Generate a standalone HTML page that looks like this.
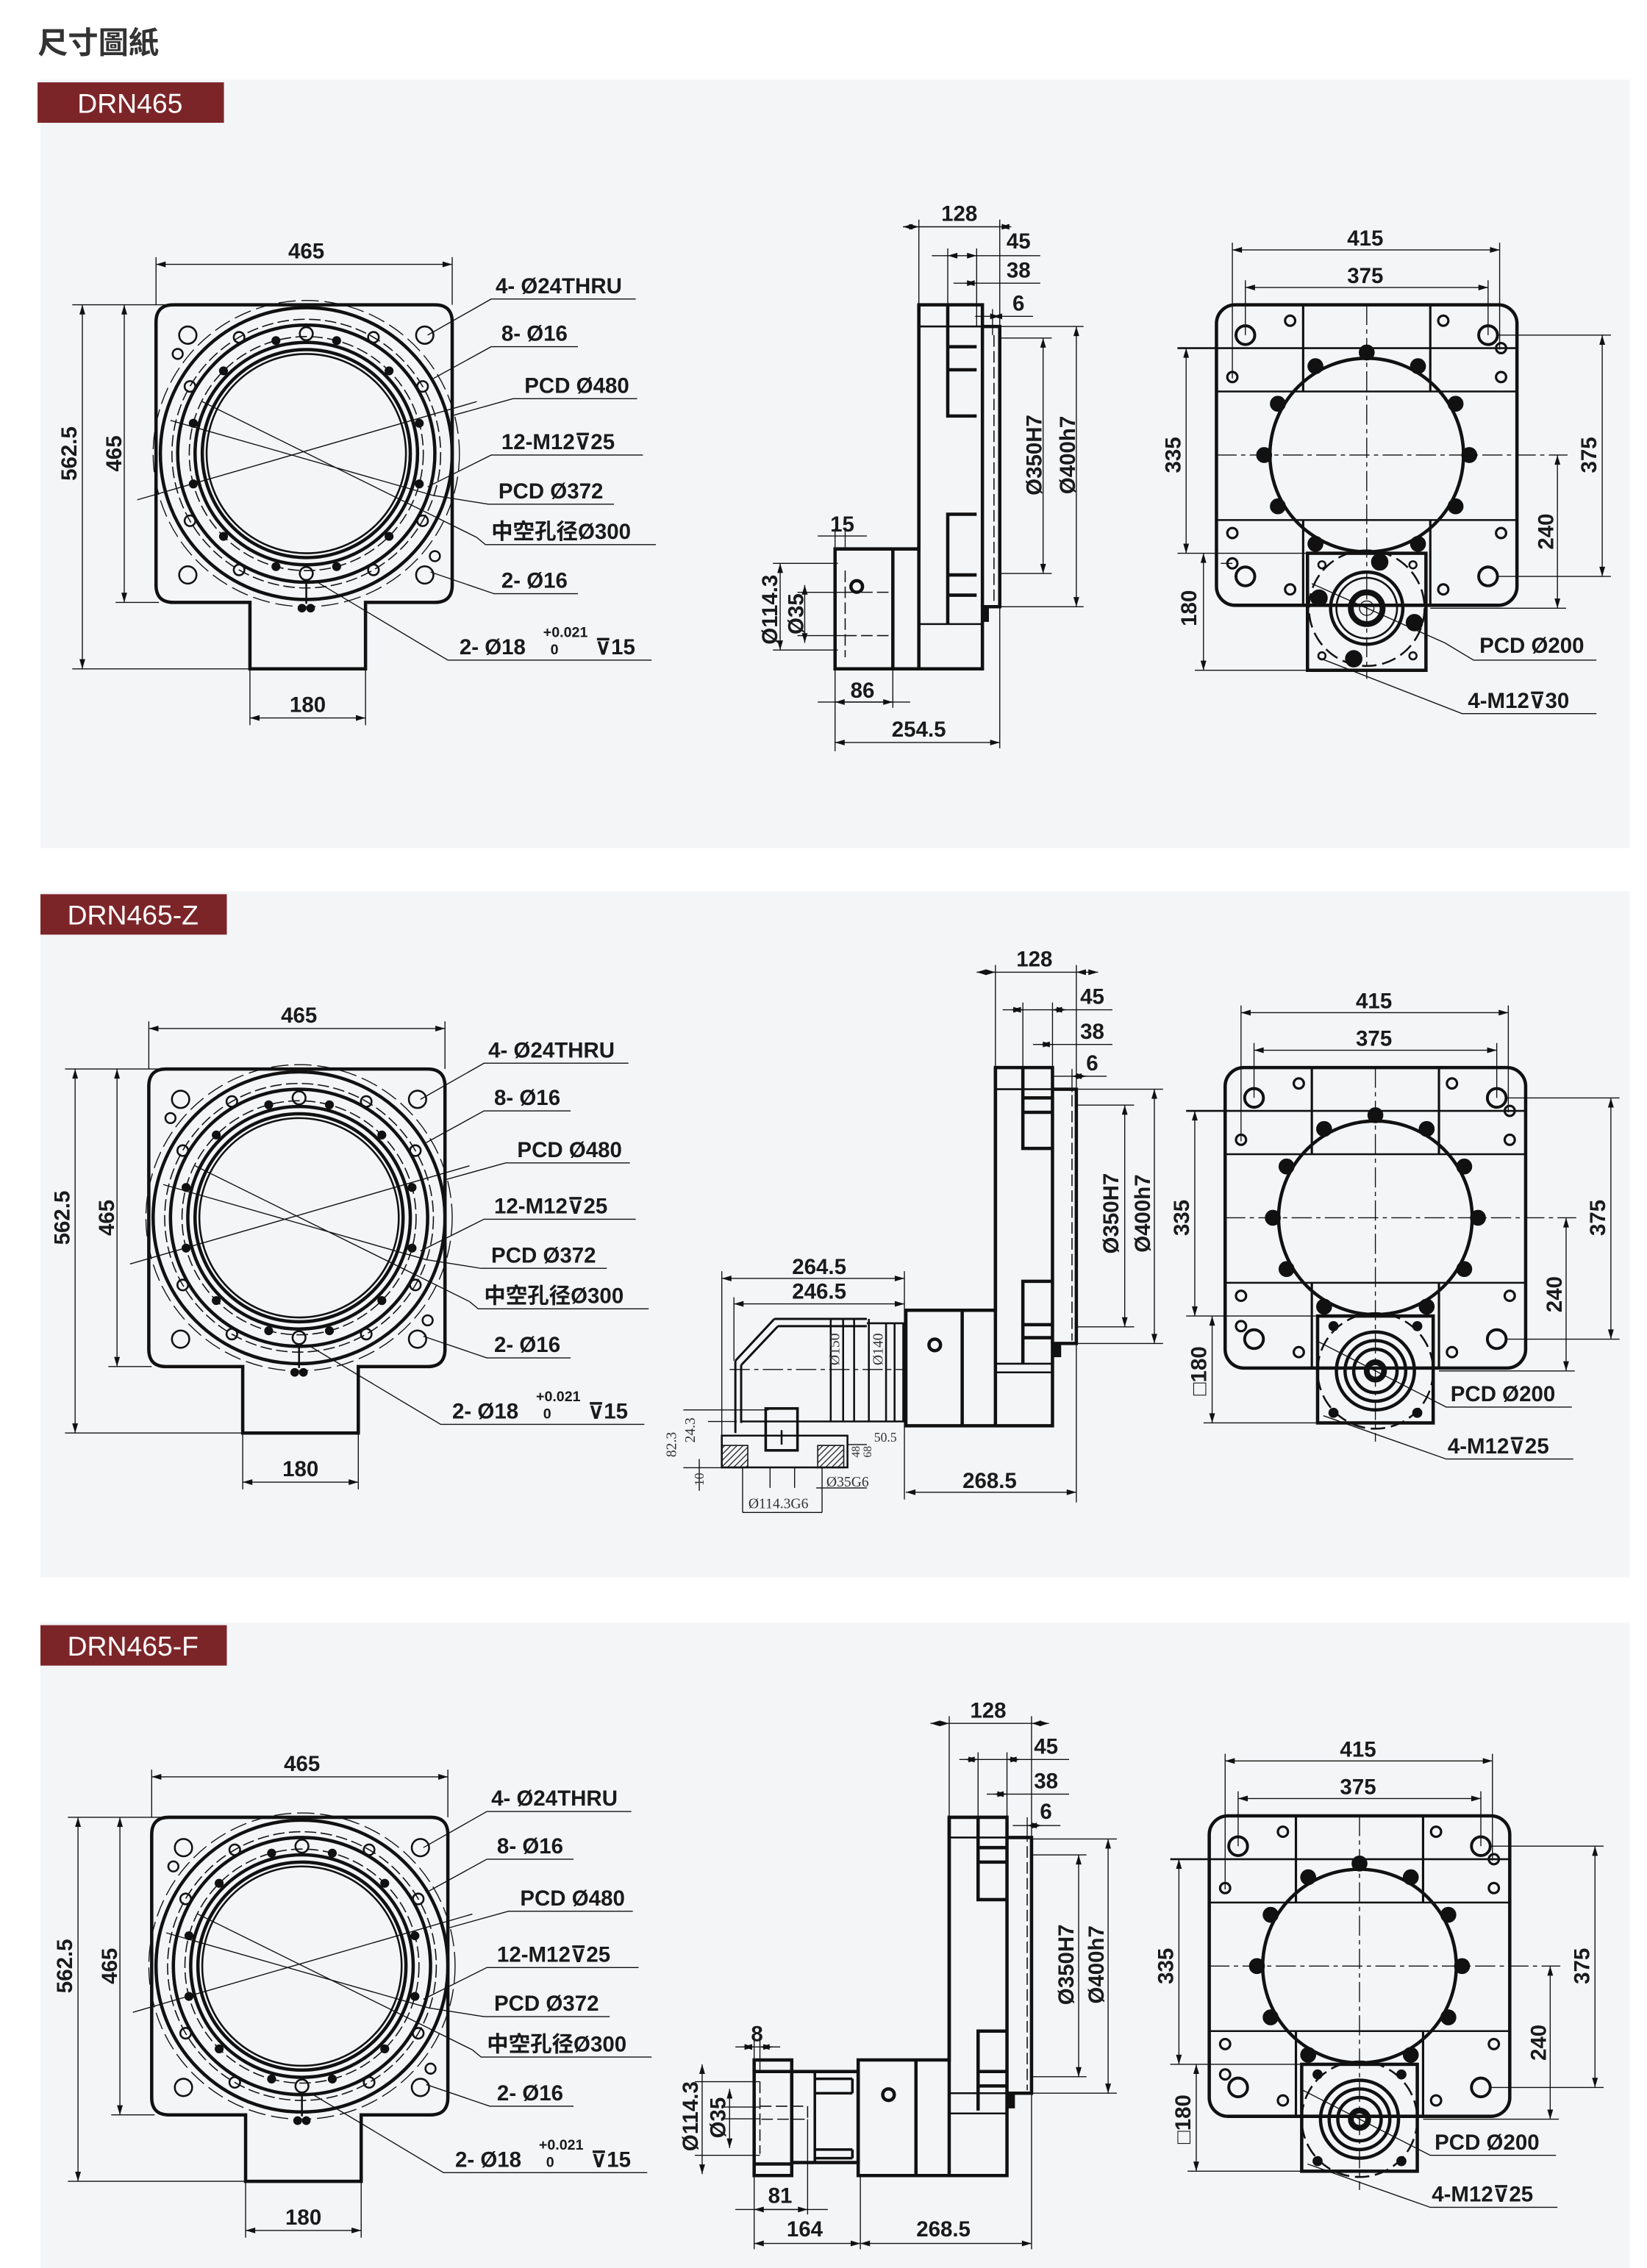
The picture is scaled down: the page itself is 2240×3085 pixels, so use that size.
<!DOCTYPE html>
<html><head><meta charset="utf-8"><style>
html,body{margin:0;padding:0;background:#fff;}
svg{display:block;}
text{font-family:"Liberation Sans","Noto Sans CJK TC",sans-serif;fill:#1a1a1a;}
.t{font-size:15px;font-weight:bold;}
.s{font-family:"Liberation Serif",serif;font-size:8px;fill:#333;}
.k{stroke:#111;stroke-width:2.3;fill:none;}
.m{stroke:#111;stroke-width:1.3;fill:none;}
.n{stroke:#111;stroke-width:0.7;fill:none;}
.d{stroke:#111;stroke-width:0.7;fill:none;marker-start:url(#a);marker-end:url(#a);}
.dh{stroke:#111;stroke-width:0.8;fill:none;stroke-dasharray:8 3;}
.c{stroke:#111;stroke-width:0.7;fill:none;stroke-dasharray:14 3 3 3;}
.f{fill:#111;stroke:#111;stroke-width:1;}
</style></head><body>
<svg width="2240" height="3085" viewBox="0 0 1140 1570" preserveAspectRatio="none" xmlns="http://www.w3.org/2000/svg">
<defs>
<marker id="a" viewBox="0 0 10 6" refX="10" refY="3" markerUnits="userSpaceOnUse" markerWidth="8" markerHeight="4" orient="auto-start-reverse"><path d="M0,0 L10,3 L0,6z" fill="#111"/></marker>
<pattern id="h" width="3" height="3" patternUnits="userSpaceOnUse" patternTransform="rotate(45)"><line x1="0" y1="0" x2="0" y2="3" stroke="#111" stroke-width="1.2"/></pattern>
</defs>
<rect width="1140" height="1570" fill="#fff"/>
<text x="26" y="37" style="font-size:21px;font-weight:bold;fill:#333">尺寸圖紙</text>
<rect x="28" y="55" width="1100" height="532" fill="#f4f5f7"/>
<rect x="28" y="617" width="1100" height="475" fill="#f4f5f7"/>
<rect x="28" y="1123" width="1100" height="447" fill="#f4f5f7"/>
<rect x="26" y="57" width="129" height="28" fill="#7c2529"/>
<text x="90" y="78" text-anchor="middle" style="font-size:19px;fill:#fff">DRN465</text>
<rect x="28" y="619" width="129" height="28" fill="#7c2529"/>
<text x="92" y="640" text-anchor="middle" style="font-size:19px;fill:#fff">DRN465-Z</text>
<rect x="28" y="1125" width="129" height="28" fill="#7c2529"/>
<text x="92" y="1146" text-anchor="middle" style="font-size:19px;fill:#fff">DRN465-F</text>

<!-- FRONT VIEWS -->
<g id="fv1">
<g class="fvshape">
<line class="d" x1="108" y1="183" x2="313" y2="183"/>
<line class="n" x1="108" y1="178" x2="108" y2="211"/><line class="n" x1="313" y1="178" x2="313" y2="211"/>
<line class="d" x1="57" y1="211" x2="57" y2="463"/>
<line class="n" x1="50" y1="211" x2="120" y2="211"/><line class="n" x1="50" y1="463" x2="173" y2="463"/>
<line class="d" x1="86" y1="211" x2="86" y2="417"/><line class="n" x1="80" y1="417" x2="110" y2="417"/>
<line class="d" x1="173" y1="497" x2="253" y2="497"/>
<line class="n" x1="173" y1="463" x2="173" y2="502"/><line class="n" x1="253" y1="463" x2="253" y2="502"/>
<path class="k" d="M120,211 H301 Q313,211 313,223 V405 Q313,417 301,417 H253 V463 H173 V417 H120 Q108,417 108,405 V223 Q108,211 120,211 Z"/>
<circle class="k" cx="212" cy="314" r="101"/>
<circle class="dh" cx="212" cy="314" r="93"/>
<circle class="n" cx="212" cy="314" r="106" stroke-dasharray="12 4"/>
<circle class="k" cx="212" cy="314" r="89"/>
<circle class="dh" cx="212" cy="314" r="81"/>
<circle class="k" cx="212" cy="314" r="77"/>
<circle class="k" cx="212" cy="314" r="72"/>
<circle class="m" cx="212" cy="314" r="69"/>
<g class="m">
<circle cx="130" cy="232" r="6"/><circle cx="294" cy="232" r="6"/><circle cx="130" cy="398" r="6"/><circle cx="294" cy="398" r="6"/>
<circle cx="123" cy="245" r="3.5"/><circle cx="301" cy="385" r="3.5"/>
<circle cx="258.5" cy="233.5" r="3.7"/><circle cx="292.5" cy="267.5" r="3.7"/><circle cx="292.5" cy="360.5" r="3.7"/><circle cx="258.5" cy="394.5" r="3.7"/>
<circle cx="165.5" cy="394.5" r="3.7"/><circle cx="131.5" cy="360.5" r="3.7"/><circle cx="131.5" cy="267.5" r="3.7"/><circle cx="165.5" cy="233.5" r="3.7"/>
<circle cx="212" cy="231" r="4.5"/><circle cx="212" cy="397" r="4.5"/>
</g>
<g class="f">
<circle cx="233" cy="235.8" r="2.6"/><circle cx="269.3" cy="256.7" r="2.6"/><circle cx="290.2" cy="293" r="2.6"/><circle cx="290.2" cy="335" r="2.6"/>
<circle cx="269.3" cy="371.3" r="2.6"/><circle cx="233" cy="392.2" r="2.6"/><circle cx="191" cy="392.2" r="2.6"/><circle cx="154.7" cy="371.3" r="2.6"/>
<circle cx="133.8" cy="335" r="2.6"/><circle cx="133.8" cy="293" r="2.6"/><circle cx="154.7" cy="256.7" r="2.6"/><circle cx="191" cy="235.8" r="2.6"/>
<circle cx="209" cy="421" r="2.5"/><circle cx="215" cy="421" r="2.5"/>
</g>
<line class="m" x1="212" y1="401" x2="212" y2="418"/>
<line class="n" x1="95" y1="346" x2="330" y2="278"/>
<line class="n" x1="118" y1="291" x2="300" y2="343"/>
<line class="n" x1="140" y1="278" x2="330" y2="372"/>
<path class="n" d="M296,232 L340,207 H440"/>
<path class="n" d="M300,262 L340,240 H400"/>
<path class="n" d="M312,288 L355,276 H441"/>
<path class="n" d="M296,337 L340,315 H445"/>
<path class="n" d="M300,343 L338,349 H425"/>
<path class="n" d="M330,372 L336,377 H454"/>
<path class="n" d="M298,396 L342,411 H400"/>
<path class="n" d="M218,402 L310,457 H451"/>
</g>
<text class="t" x="212" y="179" text-anchor="middle">465</text>
<text class="t" transform="translate(53,314) rotate(-90)" text-anchor="middle">562.5</text>
<text class="t" transform="translate(84,314) rotate(-90)" text-anchor="middle">465</text>
<text class="t" x="213" y="493" text-anchor="middle">180</text>
<text class="t" x="343" y="203">4- Ø24THRU</text>
<text class="t" x="347" y="236">8- Ø16</text>
<text class="t" x="363" y="272">PCD Ø480</text>
<text class="t" x="347" y="311">12-M12⊽25</text>
<text class="t" x="345" y="345">PCD Ø372</text>
<text class="t" x="340" y="373">中空孔径Ø300</text>
<text class="t" x="347" y="407">2- Ø16</text>
<text class="t" x="318" y="453">2- Ø18</text>
<text x="376" y="441" style="font-size:10px;font-weight:bold">+0.021</text>
<text x="381" y="453" style="font-size:10px;font-weight:bold">0</text>
<text class="t" x="412" y="453">⊽15</text>
</g>

<g transform="translate(-5,529)">
<g>
<line class="d" x1="108" y1="183" x2="313" y2="183"/>
<line class="n" x1="108" y1="178" x2="108" y2="211"/><line class="n" x1="313" y1="178" x2="313" y2="211"/>
<line class="d" x1="57" y1="211" x2="57" y2="463"/>
<line class="n" x1="50" y1="211" x2="120" y2="211"/><line class="n" x1="50" y1="463" x2="173" y2="463"/>
<line class="d" x1="86" y1="211" x2="86" y2="417"/><line class="n" x1="80" y1="417" x2="110" y2="417"/>
<line class="d" x1="173" y1="497" x2="253" y2="497"/>
<line class="n" x1="173" y1="463" x2="173" y2="502"/><line class="n" x1="253" y1="463" x2="253" y2="502"/>
<path class="k" d="M120,211 H301 Q313,211 313,223 V405 Q313,417 301,417 H253 V463 H173 V417 H120 Q108,417 108,405 V223 Q108,211 120,211 Z"/>
<circle class="k" cx="212" cy="314" r="101"/>
<circle class="dh" cx="212" cy="314" r="93"/>
<circle class="n" cx="212" cy="314" r="106" stroke-dasharray="12 4"/>
<circle class="k" cx="212" cy="314" r="89"/>
<circle class="dh" cx="212" cy="314" r="81"/>
<circle class="k" cx="212" cy="314" r="77"/>
<circle class="k" cx="212" cy="314" r="72"/>
<circle class="m" cx="212" cy="314" r="69"/>
<g class="m">
<circle cx="130" cy="232" r="6"/><circle cx="294" cy="232" r="6"/><circle cx="130" cy="398" r="6"/><circle cx="294" cy="398" r="6"/>
<circle cx="123" cy="245" r="3.5"/><circle cx="301" cy="385" r="3.5"/>
<circle cx="258.5" cy="233.5" r="3.7"/><circle cx="292.5" cy="267.5" r="3.7"/><circle cx="292.5" cy="360.5" r="3.7"/><circle cx="258.5" cy="394.5" r="3.7"/>
<circle cx="165.5" cy="394.5" r="3.7"/><circle cx="131.5" cy="360.5" r="3.7"/><circle cx="131.5" cy="267.5" r="3.7"/><circle cx="165.5" cy="233.5" r="3.7"/>
<circle cx="212" cy="231" r="4.5"/><circle cx="212" cy="397" r="4.5"/>
</g>
<g class="f">
<circle cx="233" cy="235.8" r="2.6"/><circle cx="269.3" cy="256.7" r="2.6"/><circle cx="290.2" cy="293" r="2.6"/><circle cx="290.2" cy="335" r="2.6"/>
<circle cx="269.3" cy="371.3" r="2.6"/><circle cx="233" cy="392.2" r="2.6"/><circle cx="191" cy="392.2" r="2.6"/><circle cx="154.7" cy="371.3" r="2.6"/>
<circle cx="133.8" cy="335" r="2.6"/><circle cx="133.8" cy="293" r="2.6"/><circle cx="154.7" cy="256.7" r="2.6"/><circle cx="191" cy="235.8" r="2.6"/>
<circle cx="209" cy="421" r="2.5"/><circle cx="215" cy="421" r="2.5"/>
</g>
<line class="m" x1="212" y1="401" x2="212" y2="418"/>
<line class="n" x1="95" y1="346" x2="330" y2="278"/>
<line class="n" x1="118" y1="291" x2="300" y2="343"/>
<line class="n" x1="140" y1="278" x2="330" y2="372"/>
<path class="n" d="M296,232 L340,207 H440"/>
<path class="n" d="M300,262 L340,240 H400"/>
<path class="n" d="M312,288 L355,276 H441"/>
<path class="n" d="M296,337 L340,315 H445"/>
<path class="n" d="M300,343 L338,349 H425"/>
<path class="n" d="M330,372 L336,377 H454"/>
<path class="n" d="M298,396 L342,411 H400"/>
<path class="n" d="M218,402 L310,457 H451"/>
</g>
<text class="t" x="212" y="179" text-anchor="middle">465</text>
<text class="t" transform="translate(53,314) rotate(-90)" text-anchor="middle">562.5</text>
<text class="t" transform="translate(84,314) rotate(-90)" text-anchor="middle">465</text>
<text class="t" x="213" y="493" text-anchor="middle">180</text>
<text class="t" x="343" y="203">4- Ø24THRU</text>
<text class="t" x="347" y="236">8- Ø16</text>
<text class="t" x="363" y="272">PCD Ø480</text>
<text class="t" x="347" y="311">12-M12⊽25</text>
<text class="t" x="345" y="345">PCD Ø372</text>
<text class="t" x="340" y="373">中空孔径Ø300</text>
<text class="t" x="347" y="407">2- Ø16</text>
<text class="t" x="318" y="453">2- Ø18</text>
<text x="376" y="441" style="font-size:10px;font-weight:bold">+0.021</text>
<text x="381" y="453" style="font-size:10px;font-weight:bold">0</text>
<text class="t" x="412" y="453">⊽15</text>
</g>

<g transform="translate(-3,1047)">
<g>
<line class="d" x1="108" y1="183" x2="313" y2="183"/>
<line class="n" x1="108" y1="178" x2="108" y2="211"/><line class="n" x1="313" y1="178" x2="313" y2="211"/>
<line class="d" x1="57" y1="211" x2="57" y2="463"/>
<line class="n" x1="50" y1="211" x2="120" y2="211"/><line class="n" x1="50" y1="463" x2="173" y2="463"/>
<line class="d" x1="86" y1="211" x2="86" y2="417"/><line class="n" x1="80" y1="417" x2="110" y2="417"/>
<line class="d" x1="173" y1="497" x2="253" y2="497"/>
<line class="n" x1="173" y1="463" x2="173" y2="502"/><line class="n" x1="253" y1="463" x2="253" y2="502"/>
<path class="k" d="M120,211 H301 Q313,211 313,223 V405 Q313,417 301,417 H253 V463 H173 V417 H120 Q108,417 108,405 V223 Q108,211 120,211 Z"/>
<circle class="k" cx="212" cy="314" r="101"/>
<circle class="dh" cx="212" cy="314" r="93"/>
<circle class="n" cx="212" cy="314" r="106" stroke-dasharray="12 4"/>
<circle class="k" cx="212" cy="314" r="89"/>
<circle class="dh" cx="212" cy="314" r="81"/>
<circle class="k" cx="212" cy="314" r="77"/>
<circle class="k" cx="212" cy="314" r="72"/>
<circle class="m" cx="212" cy="314" r="69"/>
<g class="m">
<circle cx="130" cy="232" r="6"/><circle cx="294" cy="232" r="6"/><circle cx="130" cy="398" r="6"/><circle cx="294" cy="398" r="6"/>
<circle cx="123" cy="245" r="3.5"/><circle cx="301" cy="385" r="3.5"/>
<circle cx="258.5" cy="233.5" r="3.7"/><circle cx="292.5" cy="267.5" r="3.7"/><circle cx="292.5" cy="360.5" r="3.7"/><circle cx="258.5" cy="394.5" r="3.7"/>
<circle cx="165.5" cy="394.5" r="3.7"/><circle cx="131.5" cy="360.5" r="3.7"/><circle cx="131.5" cy="267.5" r="3.7"/><circle cx="165.5" cy="233.5" r="3.7"/>
<circle cx="212" cy="231" r="4.5"/><circle cx="212" cy="397" r="4.5"/>
</g>
<g class="f">
<circle cx="233" cy="235.8" r="2.6"/><circle cx="269.3" cy="256.7" r="2.6"/><circle cx="290.2" cy="293" r="2.6"/><circle cx="290.2" cy="335" r="2.6"/>
<circle cx="269.3" cy="371.3" r="2.6"/><circle cx="233" cy="392.2" r="2.6"/><circle cx="191" cy="392.2" r="2.6"/><circle cx="154.7" cy="371.3" r="2.6"/>
<circle cx="133.8" cy="335" r="2.6"/><circle cx="133.8" cy="293" r="2.6"/><circle cx="154.7" cy="256.7" r="2.6"/><circle cx="191" cy="235.8" r="2.6"/>
<circle cx="209" cy="421" r="2.5"/><circle cx="215" cy="421" r="2.5"/>
</g>
<line class="m" x1="212" y1="401" x2="212" y2="418"/>
<line class="n" x1="95" y1="346" x2="330" y2="278"/>
<line class="n" x1="118" y1="291" x2="300" y2="343"/>
<line class="n" x1="140" y1="278" x2="330" y2="372"/>
<path class="n" d="M296,232 L340,207 H440"/>
<path class="n" d="M300,262 L340,240 H400"/>
<path class="n" d="M312,288 L355,276 H441"/>
<path class="n" d="M296,337 L340,315 H445"/>
<path class="n" d="M300,343 L338,349 H425"/>
<path class="n" d="M330,372 L336,377 H454"/>
<path class="n" d="M298,396 L342,411 H400"/>
<path class="n" d="M218,402 L310,457 H451"/>
</g>
<text class="t" x="212" y="179" text-anchor="middle">465</text>
<text class="t" transform="translate(53,314) rotate(-90)" text-anchor="middle">562.5</text>
<text class="t" transform="translate(84,314) rotate(-90)" text-anchor="middle">465</text>
<text class="t" x="213" y="493" text-anchor="middle">180</text>
<text class="t" x="343" y="203">4- Ø24THRU</text>
<text class="t" x="347" y="236">8- Ø16</text>
<text class="t" x="363" y="272">PCD Ø480</text>
<text class="t" x="347" y="311">12-M12⊽25</text>
<text class="t" x="345" y="345">PCD Ø372</text>
<text class="t" x="340" y="373">中空孔径Ø300</text>
<text class="t" x="347" y="407">2- Ø16</text>
<text class="t" x="318" y="453">2- Ø18</text>
<text x="376" y="441" style="font-size:10px;font-weight:bold">+0.021</text>
<text x="381" y="453" style="font-size:10px;font-weight:bold">0</text>
<text class="t" x="412" y="453">⊽15</text>
</g>

<!-- RIGHT VIEWS (plate + dims) -->
<g>
<line class="d" x1="853" y1="173" x2="1038" y2="173"/>
<line class="n" x1="853" y1="168" x2="853" y2="262"/><line class="n" x1="1038" y1="168" x2="1038" y2="242"/>
<line class="d" x1="862" y1="199" x2="1030" y2="199"/>
<line class="n" x1="862" y1="194" x2="862" y2="232"/><line class="n" x1="1030" y1="194" x2="1030" y2="232"/>
<rect class="k" x="842" y="211" width="208" height="208" rx="13"/>
<line class="k" x1="902" y1="211" x2="902" y2="271" style="stroke-width:1.6"/><line class="k" x1="990" y1="211" x2="990" y2="271" style="stroke-width:1.6"/>
<line class="k" x1="902" y1="360" x2="902" y2="419" style="stroke-width:1.6"/><line class="k" x1="990" y1="360" x2="990" y2="419" style="stroke-width:1.6"/>
<line class="m" x1="815" y1="241" x2="1050" y2="241"/>
<line class="m" x1="842" y1="271" x2="1050" y2="271"/>
<line class="m" x1="842" y1="360" x2="1050" y2="360"/>
<line class="c" x1="842" y1="315" x2="1085" y2="315"/>
<line class="c" x1="946" y1="211" x2="946" y2="470"/>
<circle class="k" cx="946" cy="315" r="67"/>
<g class="f">
<circle cx="946" cy="244" r="5"/><circle cx="981.5" cy="253.5" r="5"/><circle cx="1007.5" cy="279.5" r="5"/><circle cx="1017" cy="315" r="5"/>
<circle cx="1007.5" cy="350.5" r="5"/><circle cx="981.5" cy="376.5" r="5"/><circle cx="910.5" cy="253.5" r="5"/><circle cx="884.5" cy="279.5" r="5"/>
<circle cx="875" cy="315" r="5"/><circle cx="884.5" cy="350.5" r="5"/><circle cx="910.5" cy="376.5" r="5"/>
</g>
<g class="m" style="stroke-width:2">
<circle cx="862" cy="232" r="6.5"/><circle cx="1030" cy="232" r="6.5"/><circle cx="862" cy="399" r="6.5"/><circle cx="1030" cy="399" r="6.5"/>
</g>
<g class="m" style="stroke-width:1.6">
<circle cx="893" cy="222" r="3.5"/><circle cx="999" cy="222" r="3.5"/><circle cx="853" cy="261" r="3.5"/><circle cx="1039" cy="261" r="3.5"/>
<circle cx="853" cy="369" r="3.5"/><circle cx="1039" cy="369" r="3.5"/><circle cx="853" cy="390" r="3.5"/><circle cx="893" cy="408" r="3.5"/>
<circle cx="999" cy="408" r="3.5"/><circle cx="1039" cy="241" r="3.5"/>
</g>
<line class="d" x1="821" y1="241" x2="821" y2="383"/><line class="n" x1="815" y1="383" x2="905" y2="383"/>
<line class="d" x1="1109" y1="232" x2="1109" y2="399"/><line class="n" x1="1036" y1="232" x2="1115" y2="232"/><line class="n" x1="1036" y1="399" x2="1115" y2="399"/>
<line class="d" x1="1078" y1="315" x2="1078" y2="421"/><line class="n" x1="990" y1="421" x2="1084" y2="421"/>
<line class="d" x1="833" y1="383" x2="833" y2="464"/><line class="n" x1="827" y1="464" x2="905" y2="464"/>
<line class="n" x1="845" y1="390" x2="853" y2="390"/>
<text class="t" x="945" y="170" text-anchor="middle">415</text>
<text class="t" x="945" y="196" text-anchor="middle">375</text>
<text class="t" transform="translate(817,315) rotate(-90)" text-anchor="middle">335</text>
<text class="t" transform="translate(1105,315) rotate(-90)" text-anchor="middle">375</text>
<text class="t" transform="translate(1075,368) rotate(-90)" text-anchor="middle">240</text>
</g>
<!-- panel1 gearbox -->
<g>
<rect class="k" x="905" y="383" width="82" height="81"/>
<circle class="m" cx="946" cy="421" r="40" stroke-dasharray="10 4"/>
<circle class="k" cx="946" cy="421" r="25"/>
<circle class="m" cx="946" cy="421" r="21"/>
<circle class="k" cx="946" cy="421" r="11" style="stroke-width:4"/>
<circle class="n" cx="946" cy="421" r="5"/>
<g class="f"><circle cx="955" cy="389" r="5.5"/><circle cx="913" cy="414" r="5.5"/><circle cx="979" cy="431" r="5.5"/><circle cx="937" cy="456" r="5.5"/></g>
<g class="m"><circle cx="915" cy="391" r="2.5"/><circle cx="978" cy="391" r="2.5"/><circle cx="915" cy="454" r="2.5"/><circle cx="978" cy="454" r="2.5"/></g>
<path class="n" d="M908,404 L1000,445 L1020,457 H1105"/>
<path class="n" d="M912,455 L1012,494 H1105"/>
<text class="t" transform="translate(828,421) rotate(-90)" text-anchor="middle">180</text>
<text class="t" x="1024" y="452">PCD Ø200</text>
<text class="t" x="1016" y="490">4-M12⊽30</text>
</g>

<g transform="translate(6,528)">
<line class="d" x1="853" y1="173" x2="1038" y2="173"/>
<line class="n" x1="853" y1="168" x2="853" y2="262"/><line class="n" x1="1038" y1="168" x2="1038" y2="242"/>
<line class="d" x1="862" y1="199" x2="1030" y2="199"/>
<line class="n" x1="862" y1="194" x2="862" y2="232"/><line class="n" x1="1030" y1="194" x2="1030" y2="232"/>
<rect class="k" x="842" y="211" width="208" height="208" rx="13"/>
<line class="k" x1="902" y1="211" x2="902" y2="271" style="stroke-width:1.6"/><line class="k" x1="990" y1="211" x2="990" y2="271" style="stroke-width:1.6"/>
<line class="k" x1="902" y1="360" x2="902" y2="419" style="stroke-width:1.6"/><line class="k" x1="990" y1="360" x2="990" y2="419" style="stroke-width:1.6"/>
<line class="m" x1="815" y1="241" x2="1050" y2="241"/>
<line class="m" x1="842" y1="271" x2="1050" y2="271"/>
<line class="m" x1="842" y1="360" x2="1050" y2="360"/>
<line class="c" x1="842" y1="315" x2="1085" y2="315"/>
<line class="c" x1="946" y1="211" x2="946" y2="470"/>
<circle class="k" cx="946" cy="315" r="67"/>
<g class="f">
<circle cx="946" cy="244" r="5"/><circle cx="981.5" cy="253.5" r="5"/><circle cx="1007.5" cy="279.5" r="5"/><circle cx="1017" cy="315" r="5"/>
<circle cx="1007.5" cy="350.5" r="5"/><circle cx="981.5" cy="376.5" r="5"/><circle cx="910.5" cy="253.5" r="5"/><circle cx="884.5" cy="279.5" r="5"/>
<circle cx="875" cy="315" r="5"/><circle cx="884.5" cy="350.5" r="5"/><circle cx="910.5" cy="376.5" r="5"/>
</g>
<g class="m" style="stroke-width:2">
<circle cx="862" cy="232" r="6.5"/><circle cx="1030" cy="232" r="6.5"/><circle cx="862" cy="399" r="6.5"/><circle cx="1030" cy="399" r="6.5"/>
</g>
<g class="m" style="stroke-width:1.6">
<circle cx="893" cy="222" r="3.5"/><circle cx="999" cy="222" r="3.5"/><circle cx="853" cy="261" r="3.5"/><circle cx="1039" cy="261" r="3.5"/>
<circle cx="853" cy="369" r="3.5"/><circle cx="1039" cy="369" r="3.5"/><circle cx="853" cy="390" r="3.5"/><circle cx="893" cy="408" r="3.5"/>
<circle cx="999" cy="408" r="3.5"/><circle cx="1039" cy="241" r="3.5"/>
</g>
<line class="d" x1="821" y1="241" x2="821" y2="383"/><line class="n" x1="815" y1="383" x2="905" y2="383"/>
<line class="d" x1="1109" y1="232" x2="1109" y2="399"/><line class="n" x1="1036" y1="232" x2="1115" y2="232"/><line class="n" x1="1036" y1="399" x2="1115" y2="399"/>
<line class="d" x1="1078" y1="315" x2="1078" y2="421"/><line class="n" x1="990" y1="421" x2="1084" y2="421"/>
<line class="d" x1="833" y1="383" x2="833" y2="457"/><line class="n" x1="827" y1="457" x2="905" y2="457"/>
<text class="t" x="945" y="170" text-anchor="middle">415</text>
<text class="t" x="945" y="196" text-anchor="middle">375</text>
<text class="t" transform="translate(817,315) rotate(-90)" text-anchor="middle">335</text>
<text class="t" transform="translate(1105,315) rotate(-90)" text-anchor="middle">375</text>
<text class="t" transform="translate(1075,368) rotate(-90)" text-anchor="middle">240</text>
<rect class="k" x="906" y="383" width="80" height="74"/>
<circle class="m" cx="946" cy="421" r="40" stroke-dasharray="10 4"/>
<circle class="k" cx="946" cy="421" r="27"/>
<circle class="k" cx="946" cy="421" r="21"/>
<circle class="k" cx="946" cy="421" r="15"/>
<circle class="k" cx="946" cy="421" r="6" style="stroke-width:4"/>
<g class="f"><circle cx="917" cy="390" r="3"/><circle cx="975" cy="390" r="3"/><circle cx="917" cy="450" r="3"/><circle cx="975" cy="450" r="3"/></g>
<path class="n" d="M905,400 L995,446 H1082"/>
<path class="n" d="M910,452 L995,482 H1083"/>
<text class="t" transform="translate(829,421) rotate(-90)" text-anchor="middle">□180</text>
<text class="t" x="998" y="442">PCD Ø200</text>
<text class="t" x="996" y="478">4-M12⊽25</text>
</g>

<g transform="translate(-5,1046)">
<line class="d" x1="853" y1="173" x2="1038" y2="173"/>
<line class="n" x1="853" y1="168" x2="853" y2="262"/><line class="n" x1="1038" y1="168" x2="1038" y2="242"/>
<line class="d" x1="862" y1="199" x2="1030" y2="199"/>
<line class="n" x1="862" y1="194" x2="862" y2="232"/><line class="n" x1="1030" y1="194" x2="1030" y2="232"/>
<rect class="k" x="842" y="211" width="208" height="208" rx="13"/>
<line class="k" x1="902" y1="211" x2="902" y2="271" style="stroke-width:1.6"/><line class="k" x1="990" y1="211" x2="990" y2="271" style="stroke-width:1.6"/>
<line class="k" x1="902" y1="360" x2="902" y2="419" style="stroke-width:1.6"/><line class="k" x1="990" y1="360" x2="990" y2="419" style="stroke-width:1.6"/>
<line class="m" x1="815" y1="241" x2="1050" y2="241"/>
<line class="m" x1="842" y1="271" x2="1050" y2="271"/>
<line class="m" x1="842" y1="360" x2="1050" y2="360"/>
<line class="c" x1="842" y1="315" x2="1085" y2="315"/>
<line class="c" x1="946" y1="211" x2="946" y2="470"/>
<circle class="k" cx="946" cy="315" r="67"/>
<g class="f">
<circle cx="946" cy="244" r="5"/><circle cx="981.5" cy="253.5" r="5"/><circle cx="1007.5" cy="279.5" r="5"/><circle cx="1017" cy="315" r="5"/>
<circle cx="1007.5" cy="350.5" r="5"/><circle cx="981.5" cy="376.5" r="5"/><circle cx="910.5" cy="253.5" r="5"/><circle cx="884.5" cy="279.5" r="5"/>
<circle cx="875" cy="315" r="5"/><circle cx="884.5" cy="350.5" r="5"/><circle cx="910.5" cy="376.5" r="5"/>
</g>
<g class="m" style="stroke-width:2">
<circle cx="862" cy="232" r="6.5"/><circle cx="1030" cy="232" r="6.5"/><circle cx="862" cy="399" r="6.5"/><circle cx="1030" cy="399" r="6.5"/>
</g>
<g class="m" style="stroke-width:1.6">
<circle cx="893" cy="222" r="3.5"/><circle cx="999" cy="222" r="3.5"/><circle cx="853" cy="261" r="3.5"/><circle cx="1039" cy="261" r="3.5"/>
<circle cx="853" cy="369" r="3.5"/><circle cx="1039" cy="369" r="3.5"/><circle cx="853" cy="390" r="3.5"/><circle cx="893" cy="408" r="3.5"/>
<circle cx="999" cy="408" r="3.5"/><circle cx="1039" cy="241" r="3.5"/>
</g>
<line class="d" x1="821" y1="241" x2="821" y2="383"/><line class="n" x1="815" y1="383" x2="905" y2="383"/>
<line class="d" x1="1109" y1="232" x2="1109" y2="399"/><line class="n" x1="1036" y1="232" x2="1115" y2="232"/><line class="n" x1="1036" y1="399" x2="1115" y2="399"/>
<line class="d" x1="1078" y1="315" x2="1078" y2="421"/><line class="n" x1="990" y1="421" x2="1084" y2="421"/>
<line class="d" x1="833" y1="383" x2="833" y2="457"/><line class="n" x1="827" y1="457" x2="905" y2="457"/>
<text class="t" x="945" y="170" text-anchor="middle">415</text>
<text class="t" x="945" y="196" text-anchor="middle">375</text>
<text class="t" transform="translate(817,315) rotate(-90)" text-anchor="middle">335</text>
<text class="t" transform="translate(1105,315) rotate(-90)" text-anchor="middle">375</text>
<text class="t" transform="translate(1075,368) rotate(-90)" text-anchor="middle">240</text>
<rect class="k" x="906" y="383" width="80" height="74"/>
<circle class="m" cx="946" cy="421" r="40" stroke-dasharray="10 4"/>
<circle class="k" cx="946" cy="421" r="27"/>
<circle class="k" cx="946" cy="421" r="21"/>
<circle class="k" cx="946" cy="421" r="15"/>
<circle class="k" cx="946" cy="421" r="6" style="stroke-width:4"/>
<g class="f"><circle cx="917" cy="390" r="3"/><circle cx="975" cy="390" r="3"/><circle cx="917" cy="450" r="3"/><circle cx="975" cy="450" r="3"/></g>
<path class="n" d="M905,400 L995,446 H1082"/>
<path class="n" d="M910,452 L995,482 H1083"/>
<text class="t" transform="translate(829,421) rotate(-90)" text-anchor="middle">□180</text>
<text class="t" x="998" y="442">PCD Ø200</text>
<text class="t" x="996" y="478">4-M12⊽25</text>
</g>

<!-- MIDDLE VIEW PANEL 1 -->
<g>
<path class="k" d="M636,211 H680 V226 H692 V420 H680 V463 H578 V380 H636 Z"/>
<line class="k" x1="636" y1="211" x2="636" y2="463"/>
<line class="m" x1="636" y1="226" x2="680" y2="226"/>
<line class="k" x1="656" y1="211" x2="656" y2="226"/>
<line class="k" x1="680" y1="226" x2="680" y2="420"/>
<path class="k" d="M656,226 V288 H676 M656,240 H676 M656,256 H676"/>
<path class="k" d="M676,356 H656 V432 M656,398 H676 M656,412 H676"/>
<line class="m" x1="636" y1="432" x2="680" y2="432"/>
<line class="dh" x1="688" y1="232" x2="688" y2="418"/>
<line class="k" x1="618" y1="380" x2="618" y2="463"/>
<circle class="k" cx="593" cy="406" r="4"/>
<line class="dh" x1="585" y1="410" x2="618" y2="410"/><line class="dh" x1="585" y1="440" x2="618" y2="440"/>
<line class="dh" x1="585" y1="395" x2="585" y2="455"/>
<rect class="f" x="680" y="420" width="4" height="10"/>
<line class="d" x1="625" y1="157" x2="636" y2="157"/><line class="n" x1="636" y1="157" x2="692" y2="157"/><line class="d" x1="700" y1="157" x2="692" y2="157"/>
<line class="n" x1="636" y1="152" x2="636" y2="211"/><line class="n" x1="692" y1="152" x2="692" y2="226"/>
<line class="d" x1="656" y1="177" x2="676" y2="177"/><line class="n" x1="676" y1="177" x2="720" y2="177"/><line class="n" x1="645" y1="177" x2="656" y2="177"/>
<line class="n" x1="656" y1="172" x2="656" y2="211"/><line class="n" x1="676" y1="172" x2="676" y2="226"/>
<line class="n" x1="660" y1="196" x2="720" y2="196"/><line class="d" x1="668" y1="196" x2="676" y2="196"/>
<line class="n" x1="675" y1="219" x2="715" y2="219"/><line class="d" x1="692" y1="219" x2="687" y2="219"/>
<line class="n" x1="687" y1="214" x2="687" y2="232"/>
<line class="d" x1="722" y1="234" x2="722" y2="397"/><line class="n" x1="692" y1="234" x2="728" y2="234"/><line class="n" x1="692" y1="397" x2="728" y2="397"/>
<line class="d" x1="745" y1="226" x2="745" y2="420"/><line class="n" x1="692" y1="226" x2="750" y2="226"/><line class="n" x1="692" y1="420" x2="750" y2="420"/>
<line class="n" x1="566" y1="371" x2="600" y2="371"/><line class="n" x1="578" y1="366" x2="578" y2="380"/><line class="n" x1="585" y1="366" x2="585" y2="380"/>
<line class="d" x1="540" y1="390" x2="540" y2="450"/><line class="n" x1="535" y1="390" x2="580" y2="390"/><line class="n" x1="535" y1="450" x2="580" y2="450"/>
<line class="d" x1="557" y1="405" x2="557" y2="445"/><line class="n" x1="552" y1="410" x2="585" y2="410"/><line class="n" x1="552" y1="440" x2="585" y2="440"/>
<line class="d" x1="578" y1="486" x2="618" y2="486"/><line class="n" x1="566" y1="486" x2="630" y2="486"/>
<line class="n" x1="578" y1="463" x2="578" y2="520"/><line class="n" x1="618" y1="440" x2="618" y2="490"/>
<line class="d" x1="578" y1="514" x2="692" y2="514"/><line class="n" x1="692" y1="420" x2="692" y2="518"/>
<text class="t" x="664" y="153" text-anchor="middle">128</text>
<text class="t" x="705" y="172" text-anchor="middle">45</text>
<text class="t" x="705" y="192" text-anchor="middle">38</text>
<text class="t" x="705" y="215" text-anchor="middle">6</text>
<text class="t" transform="translate(721,315) rotate(-90)" text-anchor="middle">Ø350H7</text>
<text class="t" transform="translate(744,315) rotate(-90)" text-anchor="middle">Ø400h7</text>
<text class="t" x="583" y="368" text-anchor="middle">15</text>
<text class="t" transform="translate(538,422) rotate(-90)" text-anchor="middle">Ø114.3</text>
<text class="t" transform="translate(556,425) rotate(-90)" text-anchor="middle">Ø35</text>
<text class="t" x="597" y="483" text-anchor="middle">86</text>
<text class="t" x="636" y="510" text-anchor="middle">254.5</text>
</g>

<!-- MIDDLE VIEW PANEL 2 -->
<g>
<path class="k" d="M689,739 H728.5 V754 H745 V930 H728.5 V987 H627 V907 H689 Z"/>
<line class="k" x1="689" y1="739" x2="689" y2="987"/>
<line class="k" x1="728.5" y1="754" x2="728.5" y2="930"/>
<line class="m" x1="689" y1="754" x2="728.5" y2="754"/>
<line class="k" x1="708" y1="739" x2="708" y2="754"/>
<path class="k" d="M708,754 V795 H728.5 M708,760 H728.5 M708,770 H728.5"/>
<path class="k" d="M728.5,887 H708 V944 M708,917 H728.5 M708,926 H728.5"/>
<line class="m" x1="689" y1="944" x2="728.5" y2="944"/><line class="m" x1="689" y1="950" x2="728.5" y2="950"/>
<line class="dh" x1="742" y1="758" x2="742" y2="928"/>
<rect class="f" x="729" y="930" width="5" height="9"/>
<line class="k" x1="666" y1="907" x2="666" y2="987"/>
<circle class="k" cx="647" cy="931" r="4"/>
<path class="k" d="M536,913 H600 M509,942 L536,913 M509,942 V992 M538.5,918 H600 M513,945 L538.5,918 M513,945 V985" style="stroke-width:1.5"/>
<g class="m">
<line x1="575" y1="913" x2="575" y2="984"/><line x1="583.6" y1="913" x2="583.6" y2="984"/><line x1="591.2" y1="913" x2="591.2" y2="984"/>
<line x1="601.4" y1="913" x2="601.4" y2="984"/><line x1="613.3" y1="916" x2="613.3" y2="984"/><line x1="619.2" y1="916" x2="619.2" y2="984"/>
<line x1="625.2" y1="916" x2="625.2" y2="984"/>
<line x1="600" y1="916" x2="627" y2="916"/><line x1="600" y1="984" x2="627" y2="984"/>
<line x1="513" y1="984" x2="600" y2="984"/>
</g>
<line class="c" x1="505" y1="948" x2="625" y2="948"/>
<rect class="m" x="499.6" y="993.8" width="87" height="22"/>
<rect x="499.6" y="1000.6" width="18" height="15.4" fill="url(#h)" stroke="#111" stroke-width="0.8"/>
<rect x="566" y="1000.6" width="18" height="15.4" fill="url(#h)" stroke="#111" stroke-width="0.8"/>
<rect class="k" x="530" y="975" width="22" height="29" style="stroke-width:1.8"/>
<line class="m" x1="541" y1="990" x2="541" y2="1000"/>
<g class="n">
<line x1="473" y1="976" x2="532" y2="976"/><line x1="473" y1="1016" x2="500" y2="1016"/>
<line x1="490" y1="984" x2="510" y2="984"/>
<line x1="514" y1="1016" x2="514" y2="1047"/><line x1="533" y1="1016" x2="533" y2="1030"/>
<line x1="550" y1="1016" x2="550" y2="1030"/><line x1="569" y1="1016" x2="569" y2="1047"/>
<line x1="514" y1="1047" x2="569" y2="1047"/><line x1="565" y1="1030" x2="600" y2="1030"/>
<line x1="484" y1="1010" x2="484" y2="1032"/>
<line x1="586" y1="1000" x2="600" y2="1000"/>
</g>
<line class="d" x1="499.6" y1="885" x2="626" y2="885"/><line class="d" x1="508" y1="902.6" x2="626" y2="902.6"/>
<line class="n" x1="499.6" y1="880" x2="499.6" y2="994"/><line class="n" x1="508" y1="898" x2="508" y2="942"/>
<line class="n" x1="626" y1="880" x2="626" y2="1038"/>
<line class="d" x1="627" y1="1033" x2="745" y2="1033"/><line class="n" x1="745" y1="930" x2="745" y2="1040"/>
<line class="d" x1="676" y1="673" x2="689" y2="673"/><line class="n" x1="689" y1="673" x2="745" y2="673"/><line class="d" x1="760" y1="673" x2="745" y2="673"/>
<line class="n" x1="689" y1="668" x2="689" y2="739"/><line class="n" x1="745" y1="668" x2="745" y2="754"/>
<line class="n" x1="694" y1="699" x2="770" y2="699"/><line class="d" x1="700" y1="699" x2="708" y2="699"/><line class="d" x1="738" y1="699" x2="728.5" y2="699"/>
<line class="n" x1="708" y1="694" x2="708" y2="739"/><line class="n" x1="728.5" y1="694" x2="728.5" y2="739"/>
<line class="n" x1="715" y1="723" x2="770" y2="723"/><line class="d" x1="720" y1="723" x2="728.5" y2="723"/>
<line class="n" x1="729" y1="745" x2="766" y2="745"/><line class="d" x1="752" y1="745" x2="742" y2="745"/>
<line class="n" x1="742" y1="740" x2="742" y2="756"/>
<line class="d" x1="778.5" y1="765" x2="778.5" y2="918.5"/><line class="n" x1="745" y1="765" x2="785" y2="765"/><line class="n" x1="745" y1="918.5" x2="785" y2="918.5"/>
<line class="d" x1="799" y1="754" x2="799" y2="930"/><line class="n" x1="745" y1="754" x2="805" y2="754"/><line class="n" x1="745" y1="930" x2="805" y2="930"/>
<text class="t" x="716" y="669" text-anchor="middle">128</text>
<text class="t" x="756" y="695" text-anchor="middle">45</text>
<text class="t" x="756" y="719" text-anchor="middle">38</text>
<text class="t" x="756" y="741" text-anchor="middle">6</text>
<text class="t" transform="translate(774,840) rotate(-90)" text-anchor="middle">Ø350H7</text>
<text class="t" transform="translate(796,840) rotate(-90)" text-anchor="middle">Ø400h7</text>
<text class="t" x="567" y="882" text-anchor="middle">264.5</text>
<text class="t" x="567" y="899" text-anchor="middle">246.5</text>
<text class="t" x="685" y="1030" text-anchor="middle">268.5</text>
<text class="s" transform="translate(581,934) rotate(-90)" text-anchor="middle" style="font-size:10px">Ø150</text>
<text class="s" transform="translate(611,934) rotate(-90)" text-anchor="middle" style="font-size:10px">Ø140</text>
<text class="s" transform="translate(468,1000) rotate(-90)" text-anchor="middle" style="font-size:10px">82.3</text>
<text class="s" transform="translate(481,990) rotate(-90)" text-anchor="middle" style="font-size:10px">24.3</text>
<text class="s" transform="translate(487,1024) rotate(-90)" text-anchor="middle" style="font-size:9px">10</text>
<text class="s" transform="translate(595,1005) rotate(-90)" text-anchor="middle">48</text>
<text class="s" transform="translate(603,1005) rotate(-90)" text-anchor="middle">68</text>
<text class="s" x="605" y="998" style="font-size:9px">50.5</text>
<text class="s" x="572" y="1029" style="font-size:10px">Ø35G6</text>
<text class="s" x="518" y="1044" style="font-size:10px">Ø114.3G6</text>
</g>

<!-- MIDDLE VIEW PANEL 3 -->
<g>
<path class="k" d="M657,1258 H697 V1272 H714 V1449 H697 V1506 H594 V1426 H657 Z"/>
<line class="k" x1="657" y1="1258" x2="657" y2="1506"/>
<line class="k" x1="697" y1="1272" x2="697" y2="1449"/>
<line class="m" x1="657" y1="1272" x2="697" y2="1272"/>
<line class="k" x1="677" y1="1258" x2="677" y2="1272"/>
<path class="k" d="M677,1272 V1315 H697 M677,1279 H697 M677,1289 H697"/>
<path class="k" d="M697,1406 H677 V1461 M677,1434 H697 M677,1444 H697"/>
<line class="m" x1="657" y1="1449" x2="697" y2="1449"/><line class="m" x1="657" y1="1463" x2="697" y2="1463"/>
<line class="dh" x1="711" y1="1278" x2="711" y2="1447"/>
<rect class="f" x="697" y="1449" width="5" height="10"/>
<line class="k" x1="634" y1="1426" x2="634" y2="1506"/>
<circle class="k" cx="615" cy="1450" r="4"/>
<rect class="k" x="548" y="1434" width="46" height="63"/>
<g class="k" style="stroke-width:1.8">
<line x1="564" y1="1434" x2="564" y2="1497"/>
<line x1="564" y1="1439" x2="590" y2="1439"/><line x1="564" y1="1449" x2="590" y2="1449"/>
<line x1="564" y1="1488" x2="590" y2="1488"/><line x1="564" y1="1494" x2="590" y2="1494"/>
<line x1="590" y1="1439" x2="590" y2="1449"/><line x1="590" y1="1488" x2="590" y2="1494"/>
</g>
<rect class="k" x="522" y="1426" width="26" height="80"/>
<line class="k" x1="522" y1="1434" x2="548" y2="1434"/><line class="k" x1="522" y1="1498" x2="548" y2="1498"/>
<path class="dh" d="M526,1441 V1491 M526,1458 H559 V1467 H526"/>
<line class="d" x1="657" y1="1193" x2="644" y2="1193"/><line class="n" x1="657" y1="1193" x2="714" y2="1193"/><line class="d" x1="714" y1="1193" x2="726" y2="1193"/>
<line class="n" x1="657" y1="1188" x2="657" y2="1258"/><line class="n" x1="714" y1="1188" x2="714" y2="1272"/>
<line class="n" x1="664" y1="1218" x2="740" y2="1218"/><line class="d" x1="668" y1="1218" x2="677" y2="1218"/><line class="d" x1="706" y1="1218" x2="697" y2="1218"/>
<line class="n" x1="677" y1="1213" x2="677" y2="1258"/><line class="n" x1="697" y1="1213" x2="697" y2="1258"/>
<line class="n" x1="683" y1="1242" x2="740" y2="1242"/><line class="d" x1="688" y1="1242" x2="697" y2="1242"/>
<line class="n" x1="701" y1="1263.7" x2="734" y2="1263.7"/><line class="d" x1="721" y1="1263.7" x2="711" y2="1263.7"/>
<line class="n" x1="711" y1="1258" x2="711" y2="1275"/>
<line class="d" x1="746.6" y1="1284" x2="746.6" y2="1437.6"/><line class="n" x1="714" y1="1284" x2="752" y2="1284"/><line class="n" x1="714" y1="1437.6" x2="752" y2="1437.6"/>
<line class="d" x1="767" y1="1273" x2="767" y2="1449"/><line class="n" x1="714" y1="1273" x2="773" y2="1273"/><line class="n" x1="714" y1="1449" x2="773" y2="1449"/>
<line class="n" x1="509" y1="1417" x2="540" y2="1417"/><line class="d" x1="514" y1="1417" x2="522" y2="1417"/><line class="d" x1="535" y1="1417" x2="526" y2="1417"/>
<line class="n" x1="522" y1="1412" x2="522" y2="1426"/><line class="n" x1="526" y1="1412" x2="526" y2="1434"/>
<line class="d" x1="486" y1="1429" x2="486" y2="1505"/><line class="n" x1="481" y1="1441" x2="526" y2="1441"/><line class="n" x1="481" y1="1492" x2="526" y2="1492"/>
<line class="d" x1="505" y1="1446" x2="505" y2="1487"/><line class="n" x1="500" y1="1458.6" x2="526" y2="1458.6"/><line class="n" x1="500" y1="1466.7" x2="526" y2="1466.7"/>
<line class="d" x1="522" y1="1529.5" x2="559" y2="1529.5"/><line class="n" x1="509" y1="1529.5" x2="573" y2="1529.5"/>
<line class="n" x1="559" y1="1467" x2="559" y2="1533"/>
<line class="d" x1="522" y1="1553" x2="595.5" y2="1553"/><line class="d" x1="595.5" y1="1553" x2="714" y2="1553"/>
<line class="n" x1="522" y1="1506" x2="522" y2="1557"/><line class="n" x1="595.5" y1="1506" x2="595.5" y2="1557"/><line class="n" x1="714" y1="1449" x2="714" y2="1557"/>
<text class="t" x="684" y="1189" text-anchor="middle">128</text>
<text class="t" x="724" y="1214" text-anchor="middle">45</text>
<text class="t" x="724" y="1238" text-anchor="middle">38</text>
<text class="t" x="724" y="1259" text-anchor="middle">6</text>
<text class="t" transform="translate(743,1360) rotate(-90)" text-anchor="middle">Ø350H7</text>
<text class="t" transform="translate(764,1360) rotate(-90)" text-anchor="middle">Ø400h7</text>
<text class="t" x="524" y="1413" text-anchor="middle">8</text>
<text class="t" transform="translate(483,1465) rotate(-90)" text-anchor="middle">Ø114.3</text>
<text class="t" transform="translate(502,1466) rotate(-90)" text-anchor="middle">Ø35</text>
<text class="t" x="540" y="1525" text-anchor="middle">81</text>
<text class="t" x="557" y="1548" text-anchor="middle">164</text>
<text class="t" x="653" y="1548" text-anchor="middle">268.5</text>
</g>
</svg>
</body></html>
